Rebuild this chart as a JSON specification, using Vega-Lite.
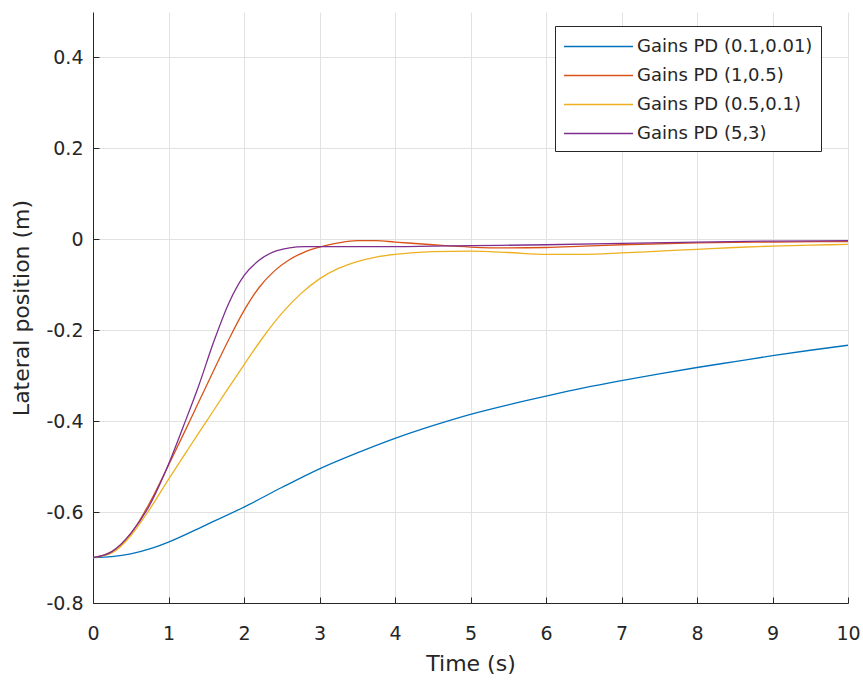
{
  "$schema": "https://vega.github.io/schema/vega-lite/v6.json",
  "width": 755,
  "height": 591,
  "autosize": {"type": "none"},
  "padding": {"left": 93, "top": 12, "right": 15, "bottom": 80},
  "background": "white",
  "config": {
    "font": "DejaVu Sans",
    "view": {"stroke": null}
  },
  "datasets": {
    "blue": [
      {"t": 0, "y": -0.700}, {"t": 0.25, "y": -0.698}, {"t": 0.5, "y": -0.692}, {"t": 0.75, "y": -0.681},
      {"t": 1, "y": -0.666}, {"t": 1.5, "y": -0.628}, {"t": 2, "y": -0.589}, {"t": 2.5, "y": -0.546},
      {"t": 3, "y": -0.505}, {"t": 3.5, "y": -0.470}, {"t": 4, "y": -0.438}, {"t": 4.5, "y": -0.410},
      {"t": 5, "y": -0.385}, {"t": 5.5, "y": -0.364}, {"t": 6, "y": -0.345}, {"t": 6.5, "y": -0.327},
      {"t": 7, "y": -0.311}, {"t": 7.5, "y": -0.296}, {"t": 8, "y": -0.282}, {"t": 8.5, "y": -0.269},
      {"t": 9, "y": -0.256}, {"t": 9.5, "y": -0.244}, {"t": 10, "y": -0.233}
    ],
    "red": [
      {"t": 0, "y": -0.700}, {"t": 0.25, "y": -0.687}, {"t": 0.5, "y": -0.648}, {"t": 0.75, "y": -0.580},
      {"t": 1, "y": -0.497}, {"t": 1.2, "y": -0.428}, {"t": 1.4, "y": -0.358}, {"t": 1.6, "y": -0.288},
      {"t": 1.8, "y": -0.220}, {"t": 2, "y": -0.157}, {"t": 2.2, "y": -0.106}, {"t": 2.4, "y": -0.070},
      {"t": 2.6, "y": -0.045}, {"t": 2.8, "y": -0.028}, {"t": 3, "y": -0.017}, {"t": 3.25, "y": -0.008},
      {"t": 3.5, "y": -0.003}, {"t": 3.75, "y": -0.003}, {"t": 4, "y": -0.006}, {"t": 4.5, "y": -0.012},
      {"t": 5, "y": -0.017}, {"t": 5.5, "y": -0.019}, {"t": 6, "y": -0.018}, {"t": 6.5, "y": -0.015},
      {"t": 7, "y": -0.012}, {"t": 8, "y": -0.008}, {"t": 9, "y": -0.006}, {"t": 10, "y": -0.005}
    ],
    "yellow": [
      {"t": 0, "y": -0.700}, {"t": 0.25, "y": -0.690}, {"t": 0.5, "y": -0.652}, {"t": 0.75, "y": -0.594},
      {"t": 1, "y": -0.528}, {"t": 1.25, "y": -0.464}, {"t": 1.5, "y": -0.401}, {"t": 1.75, "y": -0.338},
      {"t": 2, "y": -0.276}, {"t": 2.25, "y": -0.216}, {"t": 2.5, "y": -0.163}, {"t": 2.75, "y": -0.120},
      {"t": 3, "y": -0.087}, {"t": 3.25, "y": -0.064}, {"t": 3.5, "y": -0.049}, {"t": 3.75, "y": -0.039},
      {"t": 4, "y": -0.033}, {"t": 4.5, "y": -0.027}, {"t": 5, "y": -0.026}, {"t": 5.5, "y": -0.029},
      {"t": 6, "y": -0.033}, {"t": 6.5, "y": -0.033}, {"t": 7, "y": -0.030}, {"t": 7.5, "y": -0.026},
      {"t": 8, "y": -0.022}, {"t": 8.5, "y": -0.018}, {"t": 9, "y": -0.015}, {"t": 9.5, "y": -0.013},
      {"t": 10, "y": -0.011}
    ],
    "purple": [
      {"t": 0, "y": -0.700}, {"t": 0.25, "y": -0.687}, {"t": 0.5, "y": -0.647}, {"t": 0.75, "y": -0.585},
      {"t": 1, "y": -0.495}, {"t": 1.2, "y": -0.410}, {"t": 1.4, "y": -0.322}, {"t": 1.6, "y": -0.225},
      {"t": 1.8, "y": -0.140}, {"t": 2, "y": -0.080}, {"t": 2.2, "y": -0.046}, {"t": 2.4, "y": -0.027},
      {"t": 2.6, "y": -0.019}, {"t": 2.8, "y": -0.016}, {"t": 3, "y": -0.016}, {"t": 3.5, "y": -0.016},
      {"t": 4, "y": -0.016}, {"t": 4.5, "y": -0.015}, {"t": 5, "y": -0.014}, {"t": 6, "y": -0.012},
      {"t": 7, "y": -0.009}, {"t": 8, "y": -0.006}, {"t": 9, "y": -0.004}, {"t": 10, "y": -0.003}
    ]
  },
  "layer": [
    {"data": {"name": "blue"}, "transform": [{"calculate": "'Gains PD (0.1,0.01)'", "as": "s"}], "mark": {"type": "line", "interpolate": "monotone", "strokeWidth": 1.3}},
    {"data": {"name": "red"}, "transform": [{"calculate": "'Gains PD (1,0.5)'", "as": "s"}], "mark": {"type": "line", "interpolate": "monotone", "strokeWidth": 1.3}},
    {"data": {"name": "yellow"}, "transform": [{"calculate": "'Gains PD (0.5,0.1)'", "as": "s"}], "mark": {"type": "line", "interpolate": "monotone", "strokeWidth": 1.3}},
    {"data": {"name": "purple"}, "transform": [{"calculate": "'Gains PD (5,3)'", "as": "s"}], "mark": {"type": "line", "interpolate": "monotone", "strokeWidth": 1.3}}
  ],
  "encoding": {
    "x": {
      "field": "t", "type": "quantitative",
      "scale": {"domain": [0, 10], "nice": false, "zero": false},
      "axis": {
        "title": "Time (s)", "values": [0,1,2,3,4,5,6,7,8,9,10],
        "grid": true, "gridColor": "#e2e2e2", "gridWidth": 1,
        "domainColor": "#262626", "domainWidth": 1,
        "tickColor": "#262626", "tickSize": -6, "labelPadding": 27,
        "labelFontSize": 19, "labelColor": "#262626",
        "titleFontSize": 22, "titleFontWeight": "normal", "titleColor": "#262626", "titlePadding": 10,
        "labelFlush": false
      }
    },
    "y": {
      "field": "y", "type": "quantitative",
      "scale": {"domain": [-0.8, 0.5], "nice": false, "zero": false},
      "axis": {
        "title": "Lateral position (m)", "values": [-0.8,-0.6,-0.4,-0.2,0,0.2,0.4],
        "labelExpr": "datum.value == 0 ? '0' : replace(format(datum.value, '.1f'), '\u2212', '-')",
        "grid": true, "gridColor": "#e2e2e2", "gridWidth": 1,
        "domainColor": "#262626", "domainWidth": 1,
        "tickColor": "#262626", "tickSize": -6, "labelPadding": 16,
        "labelFontSize": 19, "labelColor": "#262626",
        "titleFontSize": 22, "titleFontWeight": "normal", "titleColor": "#262626", "titlePadding": 12,
        "labelFlush": false
      }
    },
    "color": {
      "field": "s", "type": "nominal",
      "scale": {
        "domain": ["Gains PD (0.1,0.01)", "Gains PD (1,0.5)", "Gains PD (0.5,0.1)", "Gains PD (5,3)"],
        "range": ["#0072BD", "#D95319", "#EDB120", "#7E2F8E"]
      },
      "legend": {
        "title": null, "orient": "none", "legendX": 462, "legendY": 14,
        "fillColor": "white", "strokeColor": "#262626", "padding": 8,
        "symbolType": "M-3,0H3", "symbolSize": 529, "symbolStrokeWidth": 1.3, "symbolOffset": 23,
        "labelFontSize": 18, "labelColor": "#262626", "labelLimit": 400,
        "rowPadding": 7, "labelOffset": 26
      }
    }
  }
}
